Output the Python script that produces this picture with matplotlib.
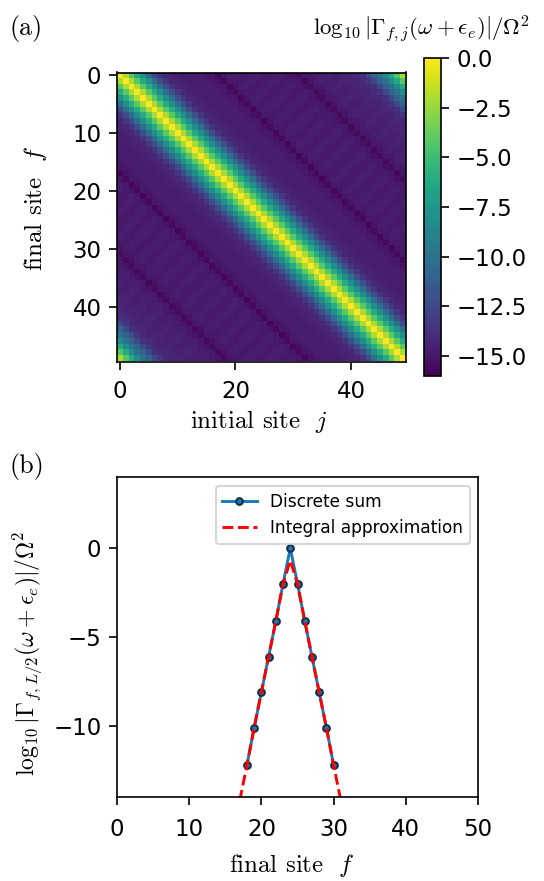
import numpy as np
import matplotlib
matplotlib.use('Agg')
import matplotlib.pyplot as plt

plt.rcParams['mathtext.fontset'] = 'cm'
plt.rcParams['font.size'] = 11

L = 50
# log10 rate, by site distance |f-j|
dist_vals = [0.0, -2.0, -4.1, -6.1, -8.1, -10.1, -12.2, -13.6, -14.3, -14.5,
             -14.6, -14.7, -14.7, -14.8, -14.8, -14.9, -15.1, -15.7, -15.0, -14.8,
             -14.8, -14.8, -14.8, -14.8, -14.8, -14.8, -14.8, -14.8, -14.8, -14.9,
             -15.1, -15.6, -15.0, -14.8, -14.7, -14.7, -14.6, -14.6, -14.5, -14.4,
             -14.3, -14.1, -13.7, -12.4, -10.9, -10.0, -8.2, -6.2, -4.2, -2.0]
# small ripple across the background, read by (f+j) modulo 4
ripple = [0.1, -0.08, -0.1, 0.08]

f_sites = [18, 19, 20, 21, 22, 23, 24, 25, 26, 27, 28, 29, 30]
gamma_disc = [-12.2, -10.1, -8.1, -6.1, -4.1, -2.0, 0.0, -2.0, -4.1, -6.1, -8.1, -10.1, -12.2]
f_int = [17, 18, 19, 20, 21, 22, 23, 24, 25, 26, 27, 28, 29, 30, 31]
gamma_int = [-14.2, -12.2, -10.1, -8.1, -6.1, -4.1, -2.0, -0.7, -2.0, -4.1, -6.1, -8.1, -10.1, -12.2, -14.2]

W, H = 544, 881
fig = plt.figure(figsize=(W/150, H/150), dpi=150)
def box(x0, y0, x1, y1):
    return [x0/W, 1-y1/H, (x1-x0)/W, (y1-y0)/H]

matrix = np.empty((L, L))
for f in range(L):
    for j in range(L):
        d = abs(f-j)
        v = dist_vals[d]
        if 16 <= d <= 42:
            v = v + ripple[(f+j) % 4]
        matrix[f, j] = v

ax1 = fig.add_axes(box(117, 72, 406, 362))
im = ax1.imshow(matrix, cmap='viridis', vmin=-16, vmax=0, interpolation='nearest')
ax1.set_xticks([0, 20, 40])
ax1.set_yticks([0, 10, 20, 30, 40])
ax1.tick_params(length=4)
ax1.tick_params(axis='x', pad=5)
ax1.set_xlabel(r'initial site $\ j$', fontsize=12, family='cmr10')
ax1.xaxis.set_label_coords(0.49, -0.16)
ax1.set_ylabel(r'final site $\ f$', fontsize=12, family='cmr10')
ax1.yaxis.set_label_coords(-0.235, 0.53)

cax = fig.add_axes(box(424, 58, 441, 376))
cb = fig.colorbar(im, cax=cax)
cb.set_ticks([0, -2.5, -5, -7.5, -10, -12.5, -15])
cb.ax.set_yticklabels(['0.0', '\u22122.5', '\u22125.0', '\u22127.5', '\u221210.0', '\u221212.5', '\u221215.0'])
cb.ax.tick_params(length=4)
fig.text(313/W, 1-29/H, r'$\log_{10}|\Gamma_{f,j}(\omega+\epsilon_e)|/\Omega^2$', fontsize=11, va='center', ha='left')
fig.text(10/W, 1-29/H, '(a)', fontsize=12.5, family='cmr10', va='center')
fig.text(10/W, 1-467/H, '(b)', fontsize=12.5, family='cmr10', va='center')

ax2 = fig.add_axes(box(117, 477, 478, 797))
ax2.plot(f_sites, gamma_disc, '-o', color='C0', lw=1.4, ms=3.2, mec='#10304a', label='Discrete sum')
ax2.plot(f_int, gamma_int, '--', color='red', lw=1.4, label='Integral approximation')
ax2.set_xlim(0, 50)
ax2.set_ylim(-14, 4)
ax2.set_xticks([0, 10, 20, 30, 40, 50])
ax2.set_yticks([0, -5, -10])
ax2.tick_params(length=4)
ax2.tick_params(axis='x', pad=6)
ax2.set_xlabel(r'final site $\ f$', fontsize=12, family='cmr10')
ax2.xaxis.set_label_coords(0.485, -0.172)
ax2.set_ylabel(r'$\log_{10}|\Gamma_{f,L/2}(\omega+\epsilon_e)|/\Omega^2$', fontsize=11.4)
ax2.yaxis.set_label_coords(-0.2, 0.45)
ax2.legend(loc='upper right', fontsize=8.2, borderaxespad=0, bbox_to_anchor=(0.978, 0.972))

fig.savefig('out.png', dpi=150)
